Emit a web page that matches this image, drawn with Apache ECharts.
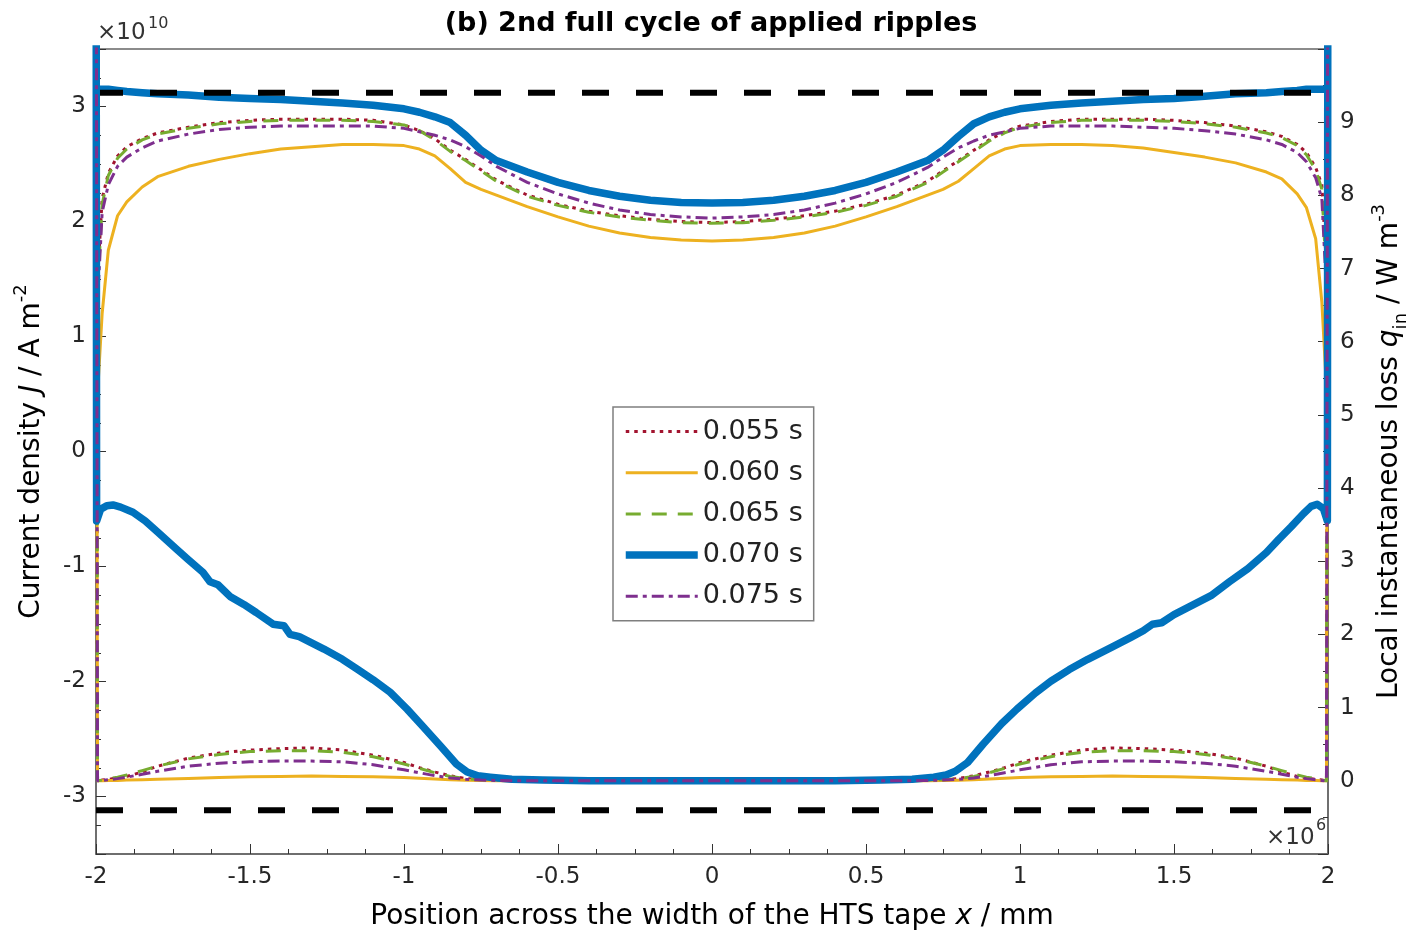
<!DOCTYPE html>
<html>
<head>
<meta charset="utf-8">
<script src="https://cdn.jsdelivr.net/npm/echarts@6/dist/echarts.min.js"></script>
<style>
html,body{margin:0;padding:0;background:#fff;}
#chart{width:1422px;height:935px;}
</style>
</head>
<body>
<div id="chart"></div>
<script>
// ---------------- data ----------------
const times = ['0.055 s', '0.060 s', '0.065 s', '0.070 s', '0.075 s'];

// positions across the tape (mm)
const xPos = [-2, -1.995, -1.98, -1.96, -1.93, -1.9, -1.85, -1.8, -1.7, -1.6, -1.5, -1.4, -1.3, -1.2, -1.1, -1.0, -0.95, -0.9, -0.85, -0.8, -0.75, -0.7, -0.6, -0.5, -0.4, -0.3, -0.2, -0.1, 0, 0.1, 0.2, 0.3, 0.4, 0.5, 0.6, 0.7, 0.75, 0.8, 0.85, 0.9, 0.95, 1.0, 1.1, 1.2, 1.3, 1.4, 1.5, 1.6, 1.7, 1.8, 1.85, 1.9, 1.93, 1.96, 1.98, 1.995, 2];

// current density J (x 1e10 A m^-2), left axis
const J055 = [0.3, 1.5, 2.2, 2.42, 2.57, 2.65, 2.72, 2.77, 2.82, 2.86, 2.88, 2.89, 2.89, 2.89, 2.88, 2.84, 2.79, 2.72, 2.62, 2.54, 2.45, 2.36, 2.23, 2.15, 2.09, 2.05, 2.02, 2.00, 1.99, 2.00, 2.02, 2.05, 2.09, 2.15, 2.23, 2.35, 2.44, 2.53, 2.62, 2.71, 2.78, 2.83, 2.87, 2.89, 2.89, 2.89, 2.88, 2.86, 2.83, 2.78, 2.74, 2.67, 2.6, 2.47, 2.32, 1.6, 0.3];
const J060 = [0.0, 0.5, 1.2, 1.75, 2.05, 2.17, 2.3, 2.39, 2.48, 2.54, 2.59, 2.63, 2.65, 2.67, 2.67, 2.66, 2.63, 2.57, 2.46, 2.34, 2.28, 2.23, 2.13, 2.04, 1.96, 1.90, 1.86, 1.84, 1.83, 1.84, 1.86, 1.90, 1.96, 2.04, 2.13, 2.23, 2.28, 2.35, 2.46, 2.57, 2.63, 2.66, 2.67, 2.67, 2.66, 2.64, 2.60, 2.56, 2.51, 2.43, 2.37, 2.24, 2.12, 1.85, 1.3, 0.55, 0.0];
const J065 = [0.3, 1.4, 2.15, 2.4, 2.55, 2.63, 2.71, 2.76, 2.81, 2.85, 2.87, 2.88, 2.88, 2.88, 2.87, 2.84, 2.79, 2.71, 2.61, 2.53, 2.44, 2.35, 2.22, 2.14, 2.08, 2.04, 2.01, 1.99, 1.985, 1.99, 2.01, 2.04, 2.08, 2.14, 2.22, 2.34, 2.43, 2.52, 2.61, 2.70, 2.77, 2.82, 2.86, 2.88, 2.88, 2.88, 2.87, 2.85, 2.82, 2.77, 2.73, 2.66, 2.58, 2.45, 2.28, 1.5, 0.3];
const J070 = [3.15, 3.15, 3.15, 3.15, 3.14, 3.13, 3.12, 3.11, 3.10, 3.08, 3.07, 3.06, 3.045, 3.03, 3.01, 2.98, 2.95, 2.91, 2.86, 2.75, 2.62, 2.53, 2.43, 2.34, 2.27, 2.22, 2.185, 2.165, 2.16, 2.165, 2.185, 2.22, 2.27, 2.34, 2.43, 2.53, 2.62, 2.74, 2.85, 2.91, 2.95, 2.98, 3.01, 3.03, 3.045, 3.06, 3.07, 3.09, 3.11, 3.12, 3.13, 3.14, 3.15, 3.15, 3.15, 3.15, 3.15];
const J075 = [0.3, 1.3, 2.08, 2.32, 2.48, 2.56, 2.64, 2.70, 2.76, 2.80, 2.82, 2.83, 2.83, 2.83, 2.83, 2.81, 2.78, 2.75, 2.71, 2.65, 2.57, 2.48, 2.34, 2.24, 2.16, 2.10, 2.06, 2.04, 2.03, 2.04, 2.06, 2.10, 2.16, 2.24, 2.34, 2.47, 2.56, 2.64, 2.70, 2.75, 2.78, 2.81, 2.83, 2.83, 2.83, 2.82, 2.81, 2.79, 2.76, 2.71, 2.67, 2.60, 2.52, 2.38, 2.2, 1.4, 0.3];

// local instantaneous loss q_in (x 1e6 W m^-3), right axis
const q055 = [14, 0, 0.01, 0.02, 0.04, 0.06, 0.12, 0.2, 0.31, 0.38, 0.42, 0.44, 0.45, 0.42, 0.35, 0.25, 0.18, 0.12, 0.07, 0.03, 0.015, 0.01, 0, 0, 0, 0, 0, 0, 0, 0, 0, 0, 0, 0, 0, 0.01, 0.015, 0.03, 0.07, 0.12, 0.18, 0.25, 0.35, 0.42, 0.45, 0.44, 0.42, 0.38, 0.31, 0.2, 0.12, 0.06, 0.04, 0.02, 0.01, 0, 14];
const q060 = [14, 0, 0, 0.003, 0.006, 0.01, 0.015, 0.02, 0.03, 0.045, 0.055, 0.06, 0.065, 0.06, 0.055, 0.045, 0.035, 0.025, 0.015, 0.008, 0.004, 0.002, 0, 0, 0, 0, 0, 0, 0, 0, 0, 0, 0, 0, 0, 0.002, 0.004, 0.008, 0.015, 0.025, 0.035, 0.045, 0.055, 0.06, 0.065, 0.06, 0.055, 0.045, 0.03, 0.02, 0.015, 0.01, 0.006, 0.003, 0, 0, 14];
const q065 = [14, 0, 0.01, 0.03, 0.05, 0.08, 0.14, 0.2, 0.3, 0.36, 0.40, 0.41, 0.41, 0.39, 0.33, 0.23, 0.17, 0.11, 0.06, 0.03, 0.015, 0.01, 0, 0, 0, 0, 0, 0, 0, 0, 0, 0, 0, 0, 0, 0.01, 0.015, 0.03, 0.06, 0.11, 0.17, 0.23, 0.33, 0.39, 0.41, 0.41, 0.40, 0.36, 0.3, 0.2, 0.14, 0.08, 0.05, 0.03, 0.01, 0, 14];
const q075 = [14, 0, 0.005, 0.015, 0.03, 0.05, 0.09, 0.13, 0.2, 0.24, 0.26, 0.27, 0.27, 0.26, 0.22, 0.15, 0.11, 0.07, 0.04, 0.02, 0.01, 0.005, 0, 0, 0, 0, 0, 0, 0, 0, 0, 0, 0, 0, 0, 0.005, 0.01, 0.02, 0.04, 0.07, 0.11, 0.15, 0.22, 0.26, 0.27, 0.27, 0.26, 0.24, 0.2, 0.13, 0.09, 0.05, 0.03, 0.015, 0.005, 0, 14];

// the 0.070 s loss curve has its own, finer position grid
const xQ070 = [-2, -1.998, -1.985, -1.965, -1.945, -1.92, -1.88, -1.84, -1.80, -1.74, -1.70, -1.653, -1.63, -1.604, -1.565, -1.52, -1.48, -1.425, -1.39, -1.37, -1.34, -1.26, -1.2, -1.153, -1.1, -1.045, -0.99, -0.94, -0.88, -0.83, -0.795, -0.76, -0.72, -0.65, -0.55, -0.4, 0, 0.4, 0.55, 0.65, 0.72, 0.76, 0.79, 0.83, 0.88, 0.94, 0.99, 1.05, 1.1, 1.16, 1.22, 1.3, 1.36, 1.40, 1.43, 1.46, 1.5, 1.56, 1.62, 1.68, 1.74, 1.8, 1.84, 1.88, 1.92, 1.945, 1.965, 1.985, 1.998, 2];
const q070 = [14, 3.55, 3.71, 3.76, 3.77, 3.74, 3.67, 3.55, 3.40, 3.17, 3.02, 2.85, 2.72, 2.68, 2.52, 2.41, 2.30, 2.14, 2.12, 2.0, 1.97, 1.80, 1.66, 1.53, 1.38, 1.21, 0.98, 0.75, 0.47, 0.23, 0.12, 0.07, 0.05, 0.02, 0.01, 0, 0, 0, 0.01, 0.02, 0.05, 0.08, 0.13, 0.25, 0.50, 0.78, 0.98, 1.2, 1.36, 1.52, 1.66, 1.83, 1.96, 2.05, 2.14, 2.16, 2.27, 2.40, 2.53, 2.72, 2.9, 3.12, 3.30, 3.47, 3.65, 3.75, 3.78, 3.72, 3.55, 14];

// critical current density levels (x 1e10 A m^-2)
const critX = [-2, 2];
const critJ = [3.12, -3.12];

// axis tick values
const xTicks = { min: -2, max: 2, step: 0.5 };
const jTicks = { min: -3.5, max: 3.5, step: 1 };
const qTicks = { min: -1, max: 10, step: 1 };

// ---------------- styling ----------------
const FONT = 'DejaVu Sans';
const styles = [
  { color: '#A2142F', width: 3, type: [3.5, 5] },
  { color: '#EDB120', width: 3, type: 'solid' },
  { color: '#77AC30', width: 3, type: [15, 11] },
  { color: '#0072BD', width: 7.5, type: 'solid' },
  { color: '#7E2F8E', width: 3, type: [12, 5, 4, 5] }
];

const pairs = (xs, ys) => xs.map((x, i) => [x, ys[i]]);
const jData = [J055, J060, J065, J070, J075];
const qData = [pairs(xPos, q055), pairs(xPos, q060), pairs(xPos, q065), pairs(xQ070, q070), pairs(xPos, q075)];

const series = [];
times.forEach((t, k) => {
  series.push({
    name: t, type: 'line', yAxisIndex: 0, symbol: 'none', smooth: false,
    data: pairs(xPos, jData[k]),
    lineStyle: { color: styles[k].color, width: styles[k].width, type: styles[k].type, cap: 'butt', join: 'round' },
    itemStyle: { color: styles[k].color }
  });
});
critJ.forEach(v => {
  series.push({
    type: 'line', yAxisIndex: 0, symbol: 'none', silent: true,
    data: critX.map(x => [x, v]),
    lineStyle: { color: '#000', width: 6, type: [27, 27], cap: 'butt' }
  });
});
times.forEach((t, k) => {
  series.push({
    name: t, type: 'line', yAxisIndex: 1, symbol: 'none', smooth: false,
    data: qData[k],
    lineStyle: { color: styles[k].color, width: styles[k].width, type: styles[k].type, cap: 'butt', join: 'round' },
    itemStyle: { color: styles[k].color }
  });
});

const richName = {
  i: { fontFamily: FONT, fontSize: 28, fontStyle: 'italic', color: '#000' },
  sup: { fontFamily: FONT, fontSize: 18, lineHeight: 18, verticalAlign: 'top', color: '#000' },
  sub: { fontFamily: FONT, fontSize: 18, lineHeight: 18, verticalAlign: 'bottom', color: '#000' }
};
const nameStyle = { fontFamily: FONT, fontSize: 28, color: '#000', lineHeight: 40, rich: richName };

const axisCommon = {
  axisLine: { show: true, onZero: false, lineStyle: { color: '#666', width: 1.5 } },
  axisTick: { show: true, inside: true, length: 10, lineStyle: { color: '#333', width: 1 } },
  minorTick: { show: true, length: 5, lineStyle: { color: '#333', width: 1 } },
  splitLine: { show: false },
  axisLabel: { fontFamily: FONT, fontSize: 23, color: '#262626' }
};

const option = {
  animation: false,
  backgroundColor: '#fff',
  title: {
    text: '(b) 2nd full cycle of applied ripples',
    left: 'center', top: 5,
    textStyle: { fontFamily: FONT, fontSize: 27, fontWeight: 'bold', color: '#000' }
  },
  grid: {
    left: 96, right: 94, top: 49, bottom: 81,
    outerBoundsMode: 'none', containLabel: false,
    show: true, borderColor: '#666', borderWidth: 1.5, backgroundColor: 'transparent'
  },
  legend: {
    orient: 'vertical', left: 613, top: 407,
    data: times,
    selectedMode: false,
    itemWidth: 72, itemHeight: 20, itemGap: 14.2,
    padding: [11, 11, 11, 9],
    backgroundColor: '#fff', borderColor: '#7f7f7f', borderWidth: 1.5,
    lineStyle: { width: 'inherit' },
    itemStyle: { opacity: 0, borderWidth: 0 },
    textStyle: { fontFamily: FONT, fontSize: 27, color: '#222' }
  },
  xAxis: Object.assign({}, axisCommon, {
    type: 'value', min: xTicks.min, max: xTicks.max, interval: xTicks.step,
    minorTick: Object.assign({}, axisCommon.minorTick, { splitNumber: 4 }),
    axisLabel: Object.assign({}, axisCommon.axisLabel, { margin: 12 }),
    name: 'Position across the width of the HTS tape {i|x} / mm',
    nameLocation: 'middle', nameGap: 43, nameTextStyle: nameStyle
  }),
  yAxis: [
    Object.assign({}, axisCommon, {
      type: 'value', position: 'left', min: jTicks.min, max: jTicks.max,
      minInterval: jTicks.step, maxInterval: jTicks.step, splitNumber: 7,
      minorTick: Object.assign({}, axisCommon.minorTick, { splitNumber: 4 }),
      axisLabel: Object.assign({}, axisCommon.axisLabel, { margin: 10, showMinLabel: false, showMaxLabel: false }),
      name: 'Current density {i|J} / A m{sup|-2}',
      nameLocation: 'middle', nameGap: 26, nameRotate: 90, nameTextStyle: nameStyle
    }),
    Object.assign({}, axisCommon, {
      type: 'value', position: 'right', min: qTicks.min, max: qTicks.max, interval: qTicks.step,
      minorTick: Object.assign({}, axisCommon.minorTick, { splitNumber: 2 }),
      axisLabel: Object.assign({}, axisCommon.axisLabel, { margin: 12, showMinLabel: false, showMaxLabel: false }),
      name: 'Local instantaneous loss {i|q}{sub|in} / W m{sup|-3}',
      nameLocation: 'middle', nameGap: 42, nameRotate: 90, nameTextStyle: nameStyle
    })
  ],
  graphic: [
    { type: 'text', left: 97, top: 22, style: { text: '×10', fontFamily: FONT, fontSize: 23, fill: '#333' } },
    { type: 'text', left: 148, top: 16, style: { text: '10', fontFamily: FONT, fontSize: 16, fill: '#333' } },
    { type: 'text', left: 1266, top: 827, style: { text: '×10', fontFamily: FONT, fontSize: 23, fill: '#333' } },
    { type: 'text', left: 1316, top: 818, style: { text: '6', fontFamily: FONT, fontSize: 16, fill: '#333' } }
  ],
  series: series
};

const chart = echarts.init(document.getElementById('chart'), null, { renderer: 'canvas' });
chart.setOption(option);
</script>
</body>
</html>
